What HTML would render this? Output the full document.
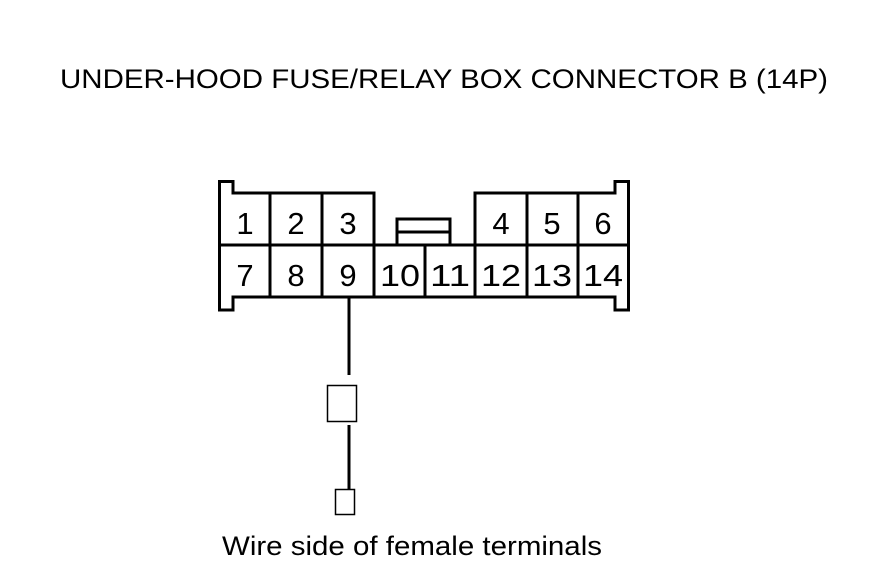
<!DOCTYPE html>
<html><head><style>
body{margin:0;background:#fff;}
svg{display:block}
text{font-family:"Liberation Sans",sans-serif;fill:#000}
</style></head><body>
<svg width="880" height="580" viewBox="0 0 880 580">
<text x="60" y="88" font-size="27" textLength="768" lengthAdjust="spacingAndGlyphs">UNDER-HOOD FUSE/RELAY BOX CONNECTOR B (14P)</text>
<g fill="none" stroke="#000" stroke-width="3">
<path d="M219.5,181.5 H233 V193 H374 V245 H475 V193 H615 V181.5 H628.5 V310 H615 V297 H233 V310 H219.5 Z"/>
<path d="M219.5,245 H374 M475,245 H628.5"/>
<path d="M270,193 V297 M322,193 V297 M374,245 V297 M425,245 V297 M475,245 V297 M527,193 V297 M578,193 V297"/>
<rect x="397" y="219" width="53" height="26"/>
<path d="M397,232 H450"/>
<path d="M349,297 V375 M349,425 V490"/>
</g>
<g fill="none" stroke="#000" stroke-width="1.5">
<rect x="327.5" y="385.5" width="29" height="36"/>
<rect x="335.5" y="489.5" width="19" height="25"/>
</g>
<g font-size="31" text-anchor="middle">
<text x="245" y="234">1</text><text x="296" y="234">2</text><text x="348" y="234">3</text>
<text x="501" y="234">4</text><text x="552" y="234">5</text><text x="603" y="234">6</text>
<text x="245" y="286">7</text><text x="296" y="286">8</text><text x="348" y="286">9</text>
<text x="400" y="286" textLength="40" lengthAdjust="spacingAndGlyphs">10</text><text x="450" y="286" textLength="40" lengthAdjust="spacingAndGlyphs">11</text><text x="501" y="286" textLength="40" lengthAdjust="spacingAndGlyphs">12</text>
<text x="552" y="286" textLength="40" lengthAdjust="spacingAndGlyphs">13</text><text x="603" y="286" textLength="40" lengthAdjust="spacingAndGlyphs">14</text>
</g>
<text x="222" y="555" font-size="27" textLength="380" lengthAdjust="spacingAndGlyphs">Wire side of female terminals</text>
</svg>
</body></html>
